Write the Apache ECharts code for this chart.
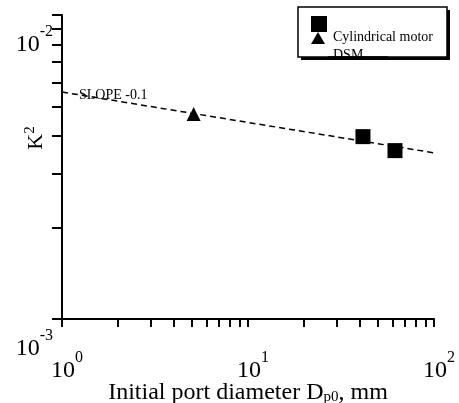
<!DOCTYPE html>
<html>
<head>
<meta charset="utf-8">
<script src="https://cdn.jsdelivr.net/npm/echarts@6/dist/echarts.min.js"></script>
<style>
html, body { margin: 0; padding: 0; background: #fff; }
#chart { width: 459px; height: 403px; }
</style>
</head>
<body>
<div id="chart"></div>
<script>
// values (log-log)
var fitLine = [[1, 0.00558], [100, 0.00352]];
var dsmPoints = [[5.1, 0.00472]];
var cylPoints = [[41.5, 0.00398], [61.7, 0.00358]];
var xTicks = [1, 2, 3, 4, 5, 6, 7, 8, 9, 10, 20, 30, 40, 50, 60, 70, 80, 90, 100];
var xLabels = [1, 10, 100];
var yTicks = [0.001, 0.002, 0.003, 0.004, 0.005, 0.006, 0.007, 0.008, 0.009, 0.01];
var yLabels = [0.001, 0.01];

var serif = 'Liberation Serif';

function powLabel(value) {
    var e = Math.round(Math.log(value) / Math.LN10);
    return '{b|10}{s|' + e + '}';
}

var powRich = {
    b: { fontFamily: serif, fontSize: 24, color: '#000' },
    s: { fontFamily: serif, fontSize: 16, color: '#000', padding: [0, 0, 26, 0] }
};

var myChart = echarts.init(document.getElementById('chart'));
myChart.setOption({
    animation: false,
    grid: {
        left: 62,
        right: 25,
        top: 15,
        bottom: 84,
        containLabel: false,
        outerBoundsMode: 'none'
    },
    xAxis: {
        type: 'log',
        logBase: 10,
        min: 1,
        max: 100,
        name: '{t|Initial port diameter D}{sub|p0}{t|, mm}',
        nameLocation: 'middle',
        nameGap: 61,
        nameMoveOverlap: false,
        nameTextStyle: {
            rich: {
                t: { fontFamily: serif, fontSize: 24, color: '#000' },
                sub: { fontFamily: serif, fontSize: 15, color: '#000', padding: [10, 0, 0, 0] }
            }
        },
        axisLine: { lineStyle: { color: '#000', width: 2 } },
        axisTick: { customValues: xTicks, length: 8, lineStyle: { color: '#000', width: 2 } },
        minorTick: { show: false },
        splitLine: { show: false },
        axisLabel: {
            customValues: xLabels,
            formatter: powLabel,
            margin: 31,
            padding: [0, 0, 0, 10],
            rich: powRich
        }
    },
    yAxis: {
        type: 'log',
        logBase: 10,
        min: 0.001,
        max: 0.01,
        axisLine: { lineStyle: { color: '#000', width: 2 } },
        axisTick: { customValues: yTicks, length: 10, lineStyle: { color: '#000', width: 2 } },
        minorTick: { show: false },
        splitLine: { show: false },
        axisLabel: {
            customValues: yLabels,
            formatter: powLabel,
            margin: 9,
            verticalAlign: 'top',
            padding: [9, 0, 0, 0],
            rich: powRich
        }
    },
    graphic: [
        // y axis title K^2, reads bottom to top
        { type: 'text', x: 36, y: 138, rotation: Math.PI / 2, z: 5,
          style: {
              text: '{k|K}{s|2}',
              align: 'center',
              verticalAlign: 'middle',
              rich: {
                  k: { font: '22px ' + serif, fill: '#000' },
                  s: { font: '15px ' + serif, fill: '#000', padding: [0, 0, 12, 0] }
              }
          } },
        { type: 'text', left: 79, top: 88, z: 5,
          style: { text: 'SLOPE -0.1', font: '14px ' + serif, fill: '#000' } },
        // legend box with drop shadow
        { type: 'rect', z: 10, shape: { x: 301, y: 10, width: 149, height: 50 }, style: { fill: '#000' } },
        { type: 'rect', z: 11, shape: { x: 298, y: 7, width: 149, height: 50 },
          style: { fill: '#fff', stroke: '#000', lineWidth: 1.5 } },
        { type: 'rect', z: 12, shape: { x: 311, y: 16, width: 16, height: 16 }, style: { fill: '#000' } },
        { type: 'polygon', z: 12, shape: { points: [[318, 32], [311, 44], [325, 44]] }, style: { fill: '#000' } },
        { type: 'text', z: 12, x: 333, y: 37,
          style: { text: 'Cylindrical motor', font: '14px ' + serif, fill: '#000', verticalAlign: 'middle' } },
        { type: 'text', z: 12, x: 333, y: 48,
          style: { text: 'DSM', font: '14px ' + serif, fill: '#000', verticalAlign: 'top' } },
        { type: 'rect', z: 13, shape: { x: 328, y: 57, width: 60, height: 14 }, style: { fill: '#fff' } },
        { type: 'rect', z: 14, shape: { x: 328, y: 56.3, width: 60, height: 3.7 }, style: { fill: '#000' } }
    ],
    series: [{
        name: 'Slope',
        type: 'line',
        data: fitLine,
        symbol: 'none',
        z: 1,
        lineStyle: { color: '#000', width: 1.5, type: [6, 4] }
    }, {
        name: 'DSM',
        type: 'scatter',
        data: dsmPoints,
        symbol: 'triangle',
        symbolSize: 14,
        z: 3,
        itemStyle: { color: '#000', opacity: 1 }
    }, {
        name: 'Cylindrical motor',
        type: 'scatter',
        data: cylPoints,
        symbol: 'rect',
        symbolSize: 15,
        z: 3,
        itemStyle: { color: '#000', opacity: 1 }
    }]
});
</script>
</body>
</html>
